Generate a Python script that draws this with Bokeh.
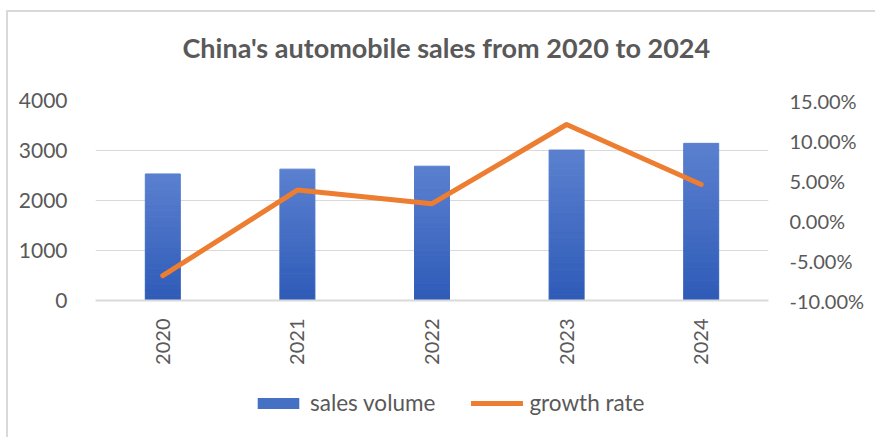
import math
from bokeh.plotting import figure
from bokeh.layouts import column
from bokeh.models import (ColumnDataSource, Range1d, LinearAxis, FixedTicker,
                          NumeralTickFormatter, Legend, LegendItem)
from bokeh.embed import file_html
from bokeh.resources import INLINE

# ---- data ----
years = ["2020", "2021", "2022", "2023", "2024"]
sales_volume = [2531, 2627, 2686, 3009, 3143]
growth_rate = [-0.069, 0.038, 0.021, 0.120, 0.045]
left_ticks = [0, 1000, 2000, 3000, 4000]
right_ticks = [-0.10, -0.05, 0.0, 0.05, 0.10, 0.15]

FONT = "Lato"
TXT = "#595959"
GRID = "#D9D9D9"
ORANGE = "#ED7D31"
BAR_MID = "#4570C4"
BAR_BOTTOM = (0x2E, 0x5B, 0xB7)
BAR_TOP = (0x5B, 0x80, 0xD0)
N = 24

def mix(t):
    c = [round(BAR_BOTTOM[i] + (BAR_TOP[i] - BAR_BOTTOM[i]) * t) for i in range(3)]
    return "#%02x%02x%02x" % tuple(c)

xs, bots, tops, cols = [], [], [], []
for y, v in zip(years, sales_volume):
    for k in range(N):
        xs.append(y)
        bots.append(v * k / N)
        tops.append(v * (k + 1) / N)
        cols.append(mix((k + 0.5) / N))
bar_src = ColumnDataSource(dict(x=xs, bottom=bots, top=tops, color=cols))
line_src = ColumnDataSource(dict(x=years, y=growth_rate))

p = figure(x_range=years, y_range=Range1d(0, 4000),
           frame_width=673, frame_height=200,
           min_border_left=95, min_border_right=107,
           min_border_top=108, min_border_bottom=85,
           output_backend="svg", toolbar_location=None,
           title="China's automobile sales from 2020 to 2024")
p.outline_line_color = None
p.background_fill_color = "white"
p.border_fill_alpha = 0

p.title.text_font = FONT
p.title.text_font_size = "27px"
p.title.text_font_style = "bold"
p.title.text_color = TXT
p.title.align = "left"
p.title.standoff = 73
p.title.offset = 87

p.extra_y_ranges = {"rate": Range1d(-0.10, 0.15)}

bars = p.vbar(x="x", bottom="bottom", top="top", width=0.26, source=bar_src,
              fill_color="color", line_color="color", line_width=1)
line = p.line(x="x", y="y", source=line_src, y_range_name="rate",
              line_color=ORANGE, line_width=5, line_cap="round", line_join="round")

# left axis
ya = p.yaxis[0]
ya.ticker = FixedTicker(ticks=left_ticks)
ya.axis_line_color = None
ya.major_tick_line_color = None
ya.minor_tick_line_color = None
ya.major_label_standoff = 22
ya.major_label_text_font = FONT
ya.major_label_text_font_size = "21px"
ya.major_label_text_color = TXT

# right axis
ra = LinearAxis(y_range_name="rate", ticker=FixedTicker(ticks=right_ticks),
                formatter=NumeralTickFormatter(format="0.00%"))
ra.axis_line_color = None
ra.major_tick_line_color = None
ra.minor_tick_line_color = None
ra.major_label_standoff = 15
ra.major_label_text_font = FONT
ra.major_label_text_font_size = "20px"
ra.major_label_text_color = TXT
p.add_layout(ra, "right")

# x axis
xa = p.xaxis[0]
xa.axis_line_color = GRID
xa.axis_line_width = 2
xa.major_tick_line_color = None
xa.minor_tick_line_color = None
xa.major_label_orientation = math.pi / 2
xa.major_label_standoff = 12
xa.major_label_text_font = FONT
xa.major_label_text_font_size = "20px"
xa.major_label_text_color = TXT

p.xgrid.grid_line_color = None
p.ygrid.grid_line_color = GRID
p.ygrid.grid_line_width = 1
p.ygrid.ticker = FixedTicker(ticks=left_ticks)

# legend strip below the chart (legend glyph renderers hold one off-range point)
q = figure(width=875, height=52, x_range=Range1d(0, 1), y_range=Range1d(0, 1),
           x_axis_location=None, y_axis_location=None,
           min_border=0, output_backend="svg", toolbar_location=None)
q.grid.visible = False
q.outline_line_color = None
q.background_fill_alpha = 0
q.border_fill_alpha = 0
lb = q.vbar(x=[-10], bottom=[-10], top=[-9], width=0.1,
            fill_color=BAR_MID, line_color=None)
ll = q.line(x=[-10, -9], y=[-10, -10], line_color=ORANGE, line_width=5,
            line_cap="round")
legend = Legend(items=[LegendItem(label="sales volume", renderers=[lb]),
                       LegendItem(label="growth rate", renderers=[ll])],
                orientation="horizontal", location=(157, 21),
                glyph_width=52, glyph_height=14, label_standoff=6, spacing=36,
                label_text_font=FONT, label_text_font_size="22.5px",
                label_text_color=TXT, border_line_color=None,
                background_fill_alpha=0, margin=0, padding=4)
q.add_layout(legend, "center")

bg = ("linear-gradient(#D9D9D9,#D9D9D9) 6px 18px / 2px 100% no-repeat, "
      "linear-gradient(#D9D9D9,#D9D9D9) 6px 18px / 100% 2px no-repeat, white")
layout = column(p, q, spacing=0,
                styles={"margin-top": "-8px", "background": bg})

open("out.html", "w").write(file_html(layout, INLINE))
